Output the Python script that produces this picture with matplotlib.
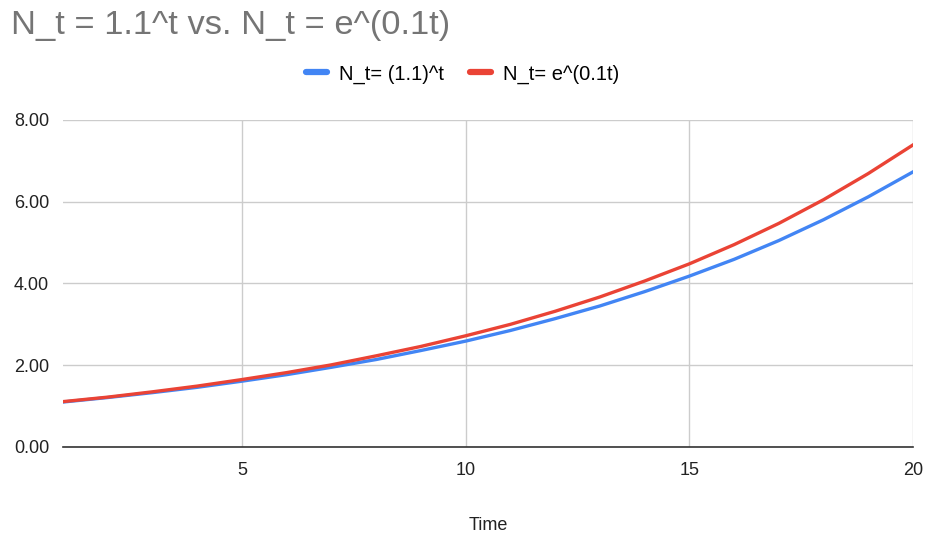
import matplotlib.pyplot as plt

plt.rcParams['font.family'] = ['Liberation Sans', 'DejaVu Sans']

t = list(range(1, 21))
# N_t = (1.1)^t
n_discrete = [1.10, 1.21, 1.33, 1.46, 1.61, 1.77, 1.95, 2.14, 2.36, 2.59,
              2.85, 3.14, 3.45, 3.80, 4.18, 4.59, 5.05, 5.56, 6.12, 6.73]
# N_t = e^(0.1t)
n_cont = [1.11, 1.22, 1.35, 1.49, 1.65, 1.82, 2.01, 2.23, 2.46, 2.72,
          3.00, 3.32, 3.67, 4.06, 4.48, 4.95, 5.47, 6.05, 6.69, 7.39]

x_ticks = [5, 10, 15, 20]
y_ticks = [0, 2, 4, 6, 8]

fig = plt.figure(figsize=(9.29, 5.37), dpi=100)
ax = fig.add_axes([0.0678, 0.1676, 0.915, 0.609])

ax.plot(t, n_discrete, color='#4285f4', lw=2.4, label='N_t= (1.1)^t')
ax.plot(t, n_cont, color='#ea4335', lw=2.4, label='N_t= e^(0.1t)')

ax.set_xlim(1, 20)
ax.set_ylim(0, 8)
ax.set_xticks(x_ticks)
ax.set_yticks(y_ticks)
ax.set_yticklabels([f'{v:.2f}' for v in y_ticks])
ax.grid(True, color='#cccccc', lw=1)
ax.set_axisbelow(True)
for s in ['top', 'right', 'left']:
    ax.spines[s].set_visible(False)
ax.spines['bottom'].set_color('#333333')
ax.spines['bottom'].set_linewidth(1.2)
ax.tick_params(length=0, labelsize=13, colors='#222222')
ax.tick_params(axis='x', pad=11)
ax.tick_params(axis='y', pad=10)

ax.set_xlabel('Time', fontsize=13, color='#222222', labelpad=27)

fig.text(0.012, 0.952, 'N_t = 1.1^t vs. N_t = e^(0.1t)', fontsize=24.8,
         color='#757575', va='center', ha='left')

leg = fig.legend(loc='center', bbox_to_anchor=(0.498, 0.862), ncol=2, frameon=False,
                 fontsize=14.5, handlelength=1.05, columnspacing=1.25, handletextpad=0.6)
for line in leg.get_lines():
    line.set_linewidth(4.5)
    line.set_solid_capstyle('round')

fig.savefig('out.png', dpi=100)
